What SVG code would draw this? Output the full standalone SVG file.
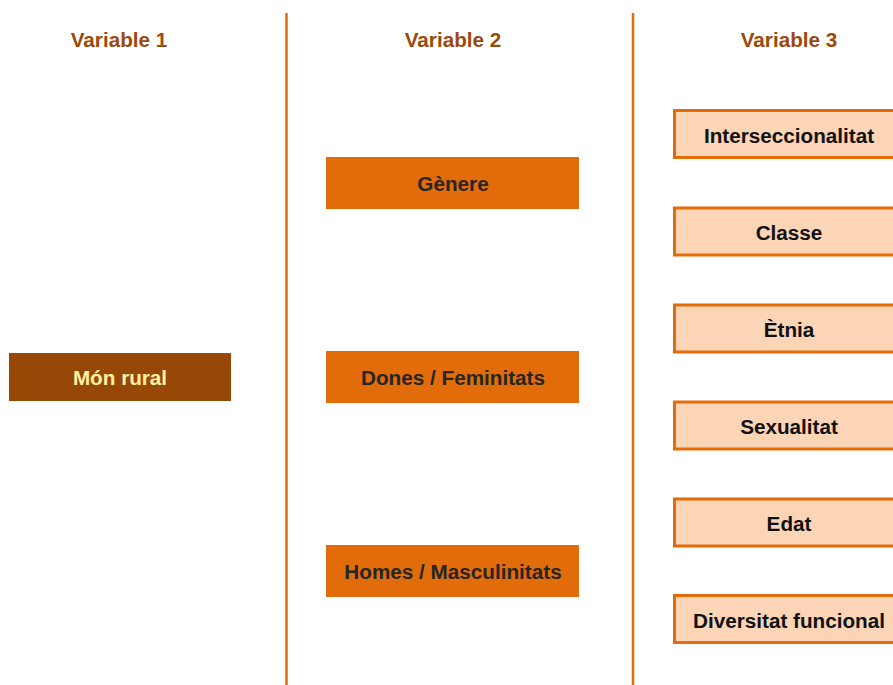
<svg xmlns="http://www.w3.org/2000/svg" width="893" height="685" viewBox="0 0 893 685">
<style>
text{font-family:"Liberation Sans",Arial,sans-serif;font-weight:bold;font-size:20.7px;text-anchor:middle}
.hdr{fill:#9A4B0B}
.sep{stroke:#E36C09;stroke-width:2.5;fill:none}
.v1 rect{fill:#984806}
.v1 text{fill:#FFF2A0}
.v2 rect{fill:#E26B0A}
.v2 text{fill:#262626}
.v3 rect{fill:#FBD5B5;stroke:#E36C09;stroke-width:3}
.v3 text{fill:#111111}
</style>
<rect width="893" height="685" fill="#ffffff"/>
<g id="headers">
<text class="hdr" x="119" y="47">Variable 1</text>
<text class="hdr" x="453" y="47">Variable 2</text>
<text class="hdr" x="789" y="47">Variable 3</text>
</g>
<g id="connectors">
<line class="sep" x1="286.5" y1="13" x2="286.5" y2="685"/>
<line class="sep" x1="633" y1="13" x2="633" y2="685"/>
</g>
<g id="mon-rural" class="v1"><rect x="9" y="353" width="222" height="48"/><text x="120" y="385">Món rural</text></g>
<g id="genere" class="v2"><rect x="326" y="157" width="253" height="52"/><text x="453" y="191">Gènere</text></g>
<g id="dones" class="v2"><rect x="326" y="351" width="253" height="52"/><text x="453" y="385">Dones / Feminitats</text></g>
<g id="homes" class="v2"><rect x="326" y="545" width="253" height="52"/><text x="453" y="579">Homes / Masculinitats</text></g>
<g id="interseccionalitat" class="v3"><rect x="674.5" y="110.5" width="230" height="47"/><text x="789" y="142.5">Interseccionalitat</text></g>
<g id="classe" class="v3"><rect x="674.5" y="208" width="230" height="47"/><text x="789" y="240">Classe</text></g>
<g id="etnia" class="v3"><rect x="674.5" y="305" width="230" height="47"/><text x="789" y="337">Ètnia</text></g>
<g id="sexualitat" class="v3"><rect x="674.5" y="402" width="230" height="47"/><text x="789" y="434">Sexualitat</text></g>
<g id="edat" class="v3"><rect x="674.5" y="499" width="230" height="47"/><text x="789" y="531">Edat</text></g>
<g id="diversitat" class="v3"><rect x="674.5" y="595.5" width="230" height="47"/><text x="789" y="627.5">Diversitat funcional</text></g>
</svg>
